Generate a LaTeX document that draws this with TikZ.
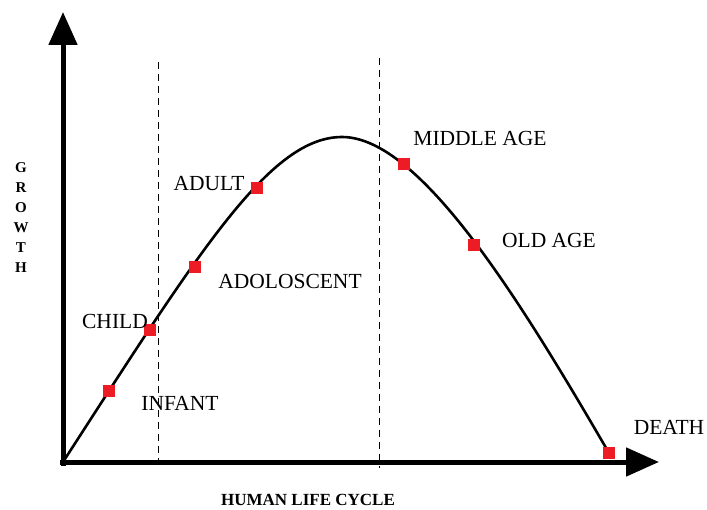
\documentclass[tikz,border=0pt]{standalone}
\usepackage{fontspec}
\setmainfont{Liberation Serif}
\usetikzlibrary{arrows.meta}
\definecolor{stagered}{RGB}{237,28,36}

\begin{document}
\begin{tikzpicture}[x=1pt, y=-1pt,
    axis/.style={line width=5pt, -{Triangle[width=28pt,length=33pt]}},
    split/.style={line width=0.9pt, dash pattern=on 7pt off 5pt},
    agebox/.style={rectangle, fill=stagered, minimum size=12pt, inner sep=0pt},
    stage/.style={font=\fontsize{21.5}{24}\selectfont, inner sep=0pt}]
    \useasboundingbox (0,0) rectangle (707,510);

    % Points
    \coordinate (o) at (63,462);
    \coordinate (ytop) at (63,12);
    \coordinate (xend) at (659,462);
    \coordinate (d1a) at (158,62);
    \coordinate (d1b) at (158,468);
    \coordinate (d2a) at (379,58);
    \coordinate (d2b) at (379,468);

    % Dividers
    \draw[split] (d1a) -- (d1b);
    \draw[split] (d2a) -- (d2b);

    % Life curve
    \draw[line width=2.6pt] (o) .. controls (200,250) and (270,137) .. (342,137)
        .. controls (420,137) and (520,300) .. (609,453);

    % Axes
    \draw[axis] (63,466) -- (ytop);
    \draw[axis] (60,462) -- (xend);

    % Stage markers
    \node[agebox] (infant) at (109,391) {};
    \node[agebox] (child) at (150,330) {};
    \node[agebox] (adolescent) at (195,267) {};
    \node[agebox] (adult) at (257,188) {};
    \node[agebox] (middle) at (404,164) {};
    \node[agebox] (old) at (474,245) {};
    \node[agebox] (death) at (609,453) {};

    % Stage labels
    \node[stage] (tinfant) at (180,403) {INFANT};
    \node[stage] (tchild) at (115,321) {CHILD};
    \node[stage] (tadolescent) at (290,281) {ADOLOSCENT};
    \node[stage] (tadult) at (209,184) {ADULT};
    \node[stage] (tmiddle) at (480,138) {MIDDLE AGE};
    \node[stage] (told) at (549,240) {OLD AGE};
    \node[stage] (tdeath) at (669,427) {DEATH};

    % Axis titles
    \node[font=\fontsize{15}{20}\bfseries\selectfont, align=center, inner sep=0pt] (growth) at (21,218)
        {G\\R\\O\\W\\T\\H};
    \node[font=\fontsize{17}{19}\bfseries\selectfont, inner sep=0pt] (cycle) at (308,500) {HUMAN LIFE CYCLE};
\end{tikzpicture}
\end{document}
